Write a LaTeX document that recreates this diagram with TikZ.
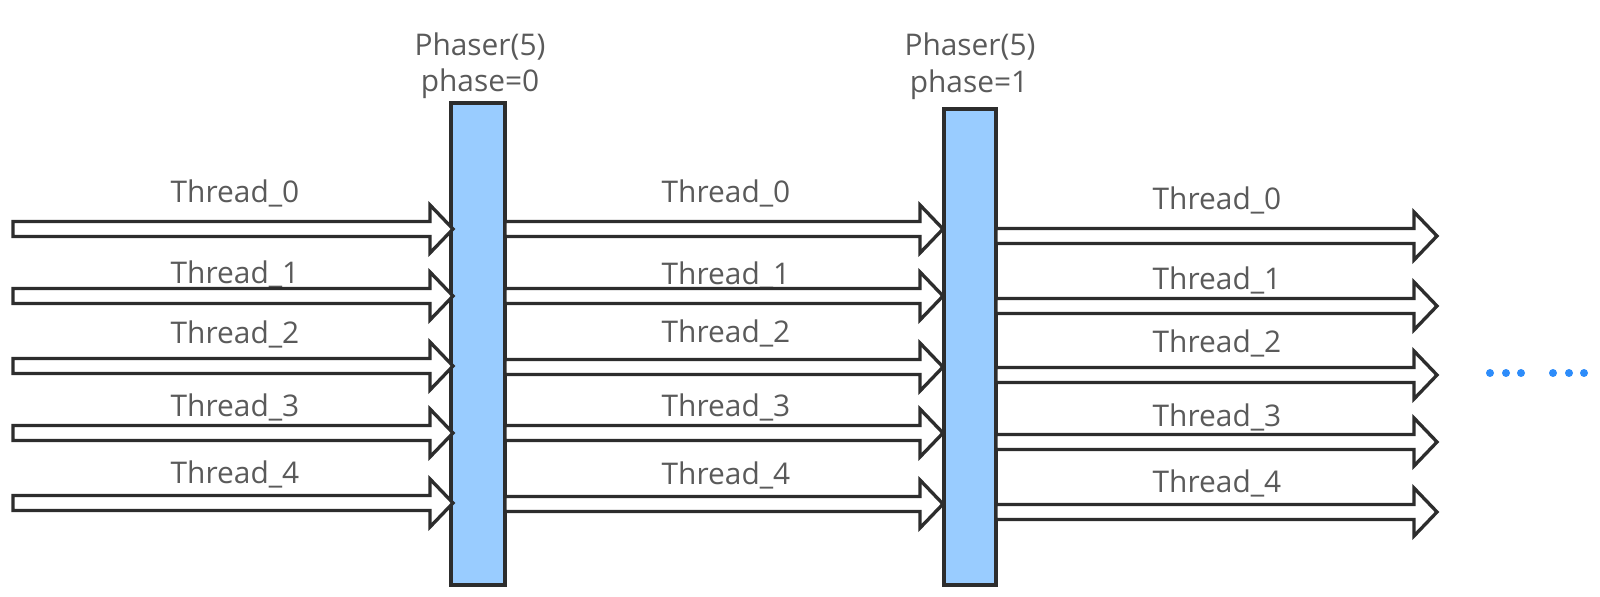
\documentclass[tikz,border=0pt]{standalone}
\usepackage{fontspec}
\setmainfont{Open Sans}
\usetikzlibrary{calc,positioning}

\definecolor{barblue}{RGB}{153,204,255}
\definecolor{dotblue}{RGB}{45,140,250}
\definecolor{textgray}{RGB}{90,90,90}
\definecolor{linegray}{RGB}{45,45,45}

\tikzset{
  phaser/.style={draw=linegray, fill=barblue, line width=1.9pt, inner sep=0pt, outer sep=0pt},
  thread/.style={draw=linegray, fill=white, line width=1.9pt, line join=miter,
    to path={($(\tikztostart)+(0,7.5)$) -- ($(\tikztotarget)+(-23,7.5)$)
      -- ($(\tikztotarget)+(-23,24)$) -- (\tikztotarget) -- ($(\tikztotarget)+(-23,-24)$)
      -- ($(\tikztotarget)+(-23,-7.5)$) -- ($(\tikztostart)+(0,-7.5)$) -- cycle}},
  lbl/.style={anchor=base, text=textgray, inner sep=0pt, font=\fontsize{17}{20}\selectfont},
  dot/.style={circle, fill=dotblue, inner sep=0pt, minimum size=0.16cm},
}

\begin{document}
\begin{tikzpicture}[x=0.02cm, y=-0.02cm]
   \useasboundingbox (0,0) rectangle (1600,597);

   %phasers
   \node[phaser, minimum width=1.08cm, minimum height=9.64cm] (p0) at (478,344) {};
   \node[phaser, minimum width=1.04cm, minimum height=9.52cm] (p1) at (970,347) {};
   \node[lbl] (p0a) at (480,56) {Phaser(5)};
   \node[lbl] (p0b) at (480,92) {phase=0};
   \node[lbl] (p1a) at (970,56) {Phaser(5)};
   \node[lbl] (p1b) at (969,93) {phase=1};

   %before phase 0
   \coordinate (a0) at (13,229);  \coordinate (b0) at (453,229);
   \coordinate (a1) at (13,296);  \coordinate (b1) at (453,296);
   \coordinate (a2) at (13,366);  \coordinate (b2) at (453,366);
   \coordinate (a3) at (13,433);  \coordinate (b3) at (453,433);
   \coordinate (a4) at (13,503);  \coordinate (b4) at (453,503);
   \node[lbl] (t0) at (235,203) {Thread\_0};
   \node[lbl] (t1) at (235,284) {Thread\_1};
   \node[lbl] (t2) at (235,344) {Thread\_2};
   \node[lbl] (t3) at (235,417) {Thread\_3};
   \node[lbl] (t4) at (235,484) {Thread\_4};

   %between phase 0 and phase 1
   \coordinate (c0) at (505,229);  \coordinate (d0) at (943,229);
   \coordinate (c1) at (505,296);  \coordinate (d1) at (943,296);
   \coordinate (c2) at (505,367);  \coordinate (d2) at (943,367);
   \coordinate (c3) at (505,433);  \coordinate (d3) at (943,433);
   \coordinate (c4) at (505,504);  \coordinate (d4) at (943,504);
   \node[lbl] (u0) at (726,203) {Thread\_0};
   \node[lbl] (u1) at (726,285) {Thread\_1};
   \node[lbl] (u2) at (726,343) {Thread\_2};
   \node[lbl] (u3) at (726,417) {Thread\_3};
   \node[lbl] (u4) at (726,485) {Thread\_4};

   %after phase 1
   \coordinate (e0) at (996,236);  \coordinate (f0) at (1437,236);
   \coordinate (e1) at (996,306);  \coordinate (f1) at (1437,306);
   \coordinate (e2) at (996,375);  \coordinate (f2) at (1437,375);
   \coordinate (e3) at (996,442);  \coordinate (f3) at (1437,442);
   \coordinate (e4) at (996,512);  \coordinate (f4) at (1437,512);
   \node[lbl] (v0) at (1217,210) {Thread\_0};
   \node[lbl] (v1) at (1217,290) {Thread\_1};
   \node[lbl] (v2) at (1217,353) {Thread\_2};
   \node[lbl] (v3) at (1217,427) {Thread\_3};
   \node[lbl] (v4) at (1217,493) {Thread\_4};

   \draw[thread] (a0) to (b0)  (a1) to (b1)  (a2) to (b2)  (a3) to (b3)  (a4) to (b4);
   \draw[thread] (c0) to (d0)  (c1) to (d1)  (c2) to (d2)  (c3) to (d3)  (c4) to (d4);
   \draw[thread] (e0) to (f0)  (e1) to (f1)  (e2) to (f2)  (e3) to (f3)  (e4) to (f4);

   %more phases
   \node[dot] (m0) at (1490,373) {};
   \node[dot] (m1) at (1506,373) {};
   \node[dot] (m2) at (1521,373) {};
   \node[dot] (m3) at (1553,373) {};
   \node[dot] (m4) at (1569,373) {};
   \node[dot] (m5) at (1584,373) {};
\end{tikzpicture}
\end{document}
